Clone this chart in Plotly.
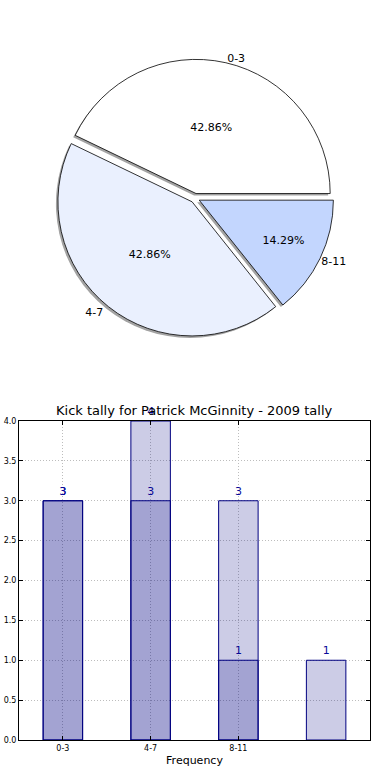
import plotly.graph_objects as go

# ---- data ----
categories = ["0-3", "4-7", "8-11"]
pie_values = [3, 3, 1]
series_a = [3, 3, 1]
series_b = [3, 4, 3, 1]
y_ticks = [0.0, 0.5, 1.0, 1.5, 2.0, 2.5, 3.0, 3.5, 4.0]
title_text = "Kick tally for Patrick McGinnity - 2009 tally"
x_title = "Frequency"

pie_colors = ["#ffffff", "#eaf0fe", "#c3d6fe"]
shadow_color = "#a3a3a3"
bar_fill = "rgba(0,0,128,0.2)"
bar_edge = "#000080"
label_color = "#0a0a9a"
grid_color = "#bdbdbd"
FONT = "DejaVu Sans"

W, H = 390, 780
pull = [0.035] * len(pie_values)
# first slice starts at 3 o'clock and runs counterclockwise (matplotlib default)
rotation = 90 - 360 * pie_values[0] / sum(pie_values)

# pie geometry (fractions of the figure)
pie_x = [0.142, 0.858]
pie_y = [0.568, 0.924]
dx, dy = -2 / W, -2 / H

fig = go.Figure()

# shadow pie (also carries outside labels)
fig.add_trace(go.Pie(
    labels=categories, values=pie_values, sort=False,
    direction="counterclockwise", rotation=rotation, pull=pull,
    marker=dict(colors=[shadow_color] * 3, line=dict(width=0)),
    texttemplate="%{label}", textposition="outside",
    textfont=dict(family=FONT, size=11, color="black"),
    domain=dict(x=[pie_x[0] + dx, pie_x[1] + dx], y=[pie_y[0] + dy, pie_y[1] + dy]),
    hoverinfo="skip", showlegend=False, automargin=False,
))

# main pie
fig.add_trace(go.Pie(
    labels=categories, values=pie_values, sort=False,
    direction="counterclockwise", rotation=rotation, pull=pull,
    marker=dict(colors=pie_colors, line=dict(color="black", width=0.8)),
    texttemplate="%{percent:.2%}", textposition="inside",
    insidetextorientation="horizontal",
    textfont=dict(family=FONT, size=11, color="black"),
    domain=dict(x=pie_x, y=pie_y),
    showlegend=False, automargin=False,
))

# bars
xa = list(range(len(series_a)))
xb = list(range(len(series_b)))
for xs, ys in ((xa, series_a), (xb, series_b)):
    fig.add_trace(go.Bar(
        x=xs, y=ys, width=0.45,
        marker=dict(color=bar_fill, line=dict(color=bar_edge, width=1)),
        text=[str(v) for v in ys], textposition="outside",
        textfont=dict(family=FONT, size=11, color=label_color),
        cliponaxis=False, showlegend=False,
    ))

axis_common = dict(
    tickfont=dict(size=8), ticks="inside", ticklen=4, tickcolor="black",
    showline=True, linecolor="black", linewidth=1, mirror="allticks",
    showgrid=True, gridcolor=grid_color, griddash="1px,2px", gridwidth=1,
    zeroline=False, automargin=False,
)

fig.update_layout(
    template="none",
    width=W, height=H,
    margin=dict(l=0, r=0, t=0, b=0),
    paper_bgcolor="white", plot_bgcolor="white",
    barmode="overlay",
    font=dict(family=FONT, color="black"),
    xaxis=dict(
        domain=[19 / W, 370 / W], range=[-0.5, 3.5],
        tickvals=list(range(len(categories))), ticktext=categories,
        title=dict(text=x_title, font=dict(size=11), standoff=4),
        **axis_common,
    ),
    yaxis=dict(
        domain=[(H - 740) / H, (H - 421) / H], range=[0, 4],
        tickvals=y_ticks, tickformat=".1f",
        **axis_common,
    ),
    annotations=[dict(
        text=title_text, xref="paper", yref="paper",
        x=(19 + 370) / 2 / W, y=(H - 421) / H, yanchor="bottom",
        xanchor="center", showarrow=False, yshift=1,
        font=dict(family=FONT, size=13, color="black"),
    )],
)

fig.write_html(
    "out.html",
    config={"displayModeBar": False},
    post_script="document.body.style.margin='0';document.body.style.overflow='hidden';",
)
